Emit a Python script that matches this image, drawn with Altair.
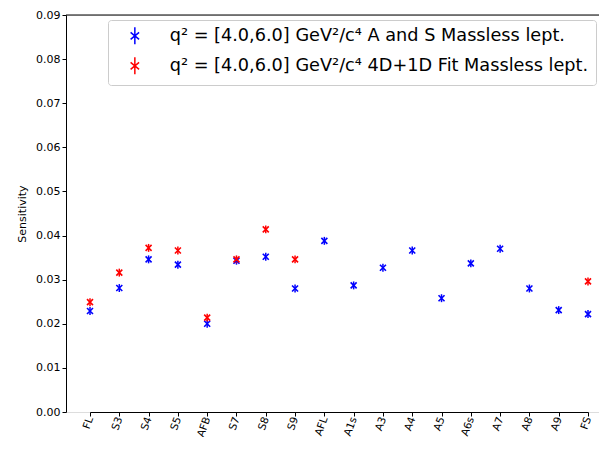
import altair as alt
import pandas as pd

params = ["FL", "S3", "S4", "S5", "AFB", "S7", "S8", "S9", "AFL", "A1s",
          "A3", "A4", "A5", "A6s", "A7", "A8", "A9", "FS"]
blue_vals = [0.0229, 0.0281, 0.0346, 0.0334, 0.0200, 0.0343, 0.0352, 0.0280, 0.0388, 0.0287,
             0.0327, 0.0366, 0.0258, 0.0337, 0.0370, 0.0280, 0.0231, 0.0222]
blue_err = [0.0009] * 18
red_params = ["FL", "S3", "S4", "S5", "AFB", "S7", "S8", "S9", "FS"]
red_vals = [0.0249, 0.0316, 0.0372, 0.0366, 0.0214, 0.0346, 0.0414, 0.0346, 0.0296]
red_err = [0.0009] * 9

name_a = "q² = [4.0,6.0] GeV²/c⁴  A and S Massless lept."
name_b = "q² = [4.0,6.0] GeV²/c⁴ 4D+1D Fit Massless lept."

W, H = 533, 397

rows = []
for p, v, e in zip(params, blue_vals, blue_err):
    rows.append({"param": p, "val": v, "lo": v - e, "hi": v + e, "series": name_a})
for p, v, e in zip(red_params, red_vals, red_err):
    rows.append({"param": p, "val": v, "lo": v - e, "hi": v + e, "series": name_b})
df = pd.DataFrame(rows)

xshape = "M-1,-1L1,1M-1,1L1,-1"
legshape = "M-0.6,-0.5L0.6,0.5M-0.6,0.5L0.6,-0.5M0,-1.2L0,1.2"

color = alt.Color(
    "series:N",
    scale=alt.Scale(domain=[name_a, name_b], range=["#0000ff", "#ff0000"]),
    legend=alt.Legend(
        title=None, orient="none", legendX=42, legendY=5,
        fillColor="white", strokeColor="#cccccc", cornerRadius=3,
        padding=7, labelFontSize=17.7, labelFont="DejaVu Sans", labelColor="black",
        symbolType=legshape, symbolSize=200, symbolStrokeWidth=1.5,
        symbolFillColor="transparent", labelOffset=26, rowPadding=6,
        labelLimit=700, symbolOffset=11,
    ),
)

x = alt.X(
    "param:N", sort=params, title=None,
    scale=alt.Scale(type="point", range=[24, 522], padding=0),
    axis=alt.Axis(labelAngle=290, labelFontSize=10.5, labelFont="DejaVu Sans",
                  labelColor="black", domainColor="black", tickColor="black",
                  tickSize=4, labelPadding=1, grid=False),
)
y = alt.Y(
    "val:Q", title="Sensitivity",
    scale=alt.Scale(domain=[0, 0.09], nice=False, zero=False),
    axis=alt.Axis(values=[0, 0.01, 0.02, 0.03, 0.04, 0.05, 0.06, 0.07, 0.08, 0.09],
                  format=".2f", labelFontSize=11, labelFont="DejaVu Sans",
                  labelColor="black", titleFontSize=11, titleFont="DejaVu Sans",
                  titleFontWeight="normal", titleColor="black",
                  domainColor="black", tickColor="black", tickSize=4,
                  grid=False, titlePadding=8),
)

base = alt.Chart(df)
bars = base.mark_rule(strokeWidth=1.5).encode(
    x=x, y=alt.Y("lo:Q"), y2="hi:Q", color=color
)
pts = base.mark_point(shape=xshape, filled=False, size=36, strokeWidth=1.6, opacity=1).encode(
    x=x, y=y, color=color
)
top_spine = alt.Chart(pd.DataFrame({"k": [0]})).mark_rule(color="black", strokeWidth=1).encode(
    x=alt.value(0), x2=alt.value(W), y=alt.value(0)
)

chart = (
    alt.layer(top_spine, bars, pts)
    .properties(width=W, height=H,
                autosize=alt.AutoSizeParams(type="none"),
                padding={"left": 58, "top": 7, "right": 0, "bottom": 25})
    .configure_view(stroke=None)
    .configure(font="DejaVu Sans")
)
chart.save("out.html", embed_options={"renderer": "svg", "actions": False})
